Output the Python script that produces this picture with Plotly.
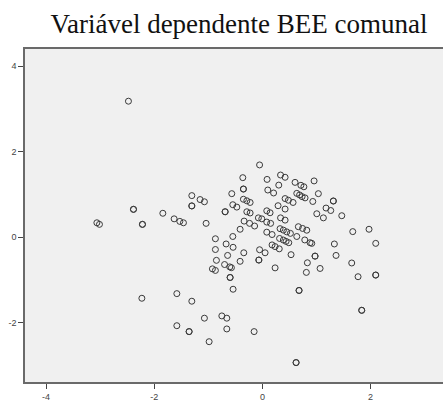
import plotly.graph_objects as go

title_text = "Variável dependente BEE comunal"

x_vals = [
    -2.477, -2.384, -2.384, -2.218, -2.218, -3.061, -3.013, -1.841, -1.632, -1.527,
    -1.460, -1.305, -1.152, -1.072, -1.305, -1.305, -1.041, -0.869, -0.869, -0.850,
    -0.924, -0.869, -2.229, -1.582, -1.305, -1.072, -1.582, -1.355, -1.355, -0.985,
    -0.750, -0.658, -0.658, -0.153, 0.623, 0.623, -0.689, -0.689, -0.547, -0.473,
    -0.351, -0.288, -0.227, -0.288, -0.227, 0.081, 0.142, 0.290, 0.420, 0.420,
    0.481, 0.567, -0.338, -0.237, -0.144, -0.074, -0.011, 0.081, 0.152, 0.336,
    0.420, -0.412, -0.547, 0.081, 0.179, 0.327, 0.388, 0.451, 0.518, 0.665,
    0.743, 0.821, 0.636, 1.006, 1.128, 1.177, 1.264, 1.312, 1.312, 1.468,
    0.318, 0.388, 0.438, 0.488, 0.784, 0.882, 0.913, -0.671, -0.542, 0.179,
    0.235, 0.312, -0.052, 0.050, -0.344, -0.643, 0.530, 0.974, 0.974, -0.412,
    -0.065, -0.065, -0.699, -0.603, -0.573, 0.235, 0.832, 0.813, 1.067, -0.597,
    -0.597, -0.542, 0.678, 0.678, 1.331, 1.362, 1.652, 1.769, 2.096, 2.096,
    1.671, 1.972, 2.096, 1.837, 1.837, -0.052, -0.362, 0.087, 0.336, 0.420,
    0.604, 0.712, 0.767, 0.956, -0.351, -0.351, 0.100, 0.207, 0.303, -0.566,
    0.636, 0.688, 0.734, 0.789, 1.035, 0.932,
]

y_vals = [
    3.179, 0.649, 0.649, 0.298, 0.298, 0.335, 0.298, 0.557, 0.427, 0.367,
    0.335, 0.970, 0.878, 0.826, 0.729, 0.729, 0.321, -0.039, -0.291, -0.544,
    -0.743, -0.780, -1.431, -1.323, -1.500, -1.897, -2.073, -2.211, -2.211, -2.447,
    -1.844, -1.897, -2.149, -2.211, -2.936, -2.936, 0.592, 0.592, 0.757, 0.702,
    0.885, 0.849, 0.810, 0.592, 0.564, 0.615, 0.569, 0.734, 0.656, 0.901,
    0.862, 0.810, 0.374, 0.321, 0.259, 0.450, 0.427, 0.351, 0.321, 0.450,
    0.397, 0.183, 0.014, 0.115, 0.060, 0.197, 0.163, 0.122, 0.087, 0.243,
    0.202, 0.161, 0.014, 0.546, 0.450, 0.679, 0.622, 0.844, 0.844, 0.500,
    -0.032, -0.069, -0.101, -0.131, -0.067, -0.131, -0.147, -0.161, -0.239, -0.183,
    -0.222, -0.275, -0.296, -0.367, -0.367, -0.429, -0.411, -0.445, -0.445, -0.567,
    -0.537, -0.537, -0.642, -0.697, -0.716, -0.720, -0.601, -0.826, -0.734, -0.945,
    -0.945, -1.220, -1.248, -1.248, -0.161, -0.429, -0.606, -0.927, -0.888, -0.888,
    0.128, 0.183, -0.147, -1.713, -1.713, 1.688, 1.390, 1.349, 1.452, 1.399,
    1.280, 1.211, 1.177, 1.314, 1.124, 1.124, 1.101, 1.032, 1.216, 1.016,
    1.023, 0.986, 0.947, 0.917, 1.016, 0.833,
]

x_ticks = [-4, -2, 0, 2]
x_tick_labels = ["-4", "-2", "0", "2"]
y_ticks = [-2, 0, 2, 4]
y_tick_labels = ["-2", "0", "2", "4"]

fig = go.Figure()
fig.add_trace(go.Scatter(
    x=x_vals, y=y_vals, mode="markers",
    marker=dict(symbol="circle-open", size=6, color="#3a3a3a",
                line=dict(width=1, color="#3a3a3a")),
    hoverinfo="skip", showlegend=False,
))

axis_common = dict(
    showgrid=False, zeroline=False, showline=True, linecolor="#6a6a6a",
    linewidth=1.5, ticks="outside", ticklen=5, tickwidth=1, tickcolor="#444",
    tickfont=dict(family="Liberation Sans, Arial", size=9, color="#444"),
)

fig.update_layout(
    width=443, height=402,
    margin=dict(l=25, r=0, t=49, b=13),
    paper_bgcolor="white", plot_bgcolor="#f0f0f0",
    title=dict(text=title_text, x=239 / 443, xanchor="center", xref="container",
               y=1 - 24 / 402, yanchor="middle", yref="container",
               font=dict(family="Liberation Serif, Times New Roman", size=27, color="#111")),
    xaxis=dict(range=[-4.39, 3.34], tickvals=x_ticks, ticktext=x_tick_labels,
               mirror=True, ticklabelstandoff=0, **axis_common),
    yaxis=dict(range=[-3.39, 4.40], tickvals=y_ticks, ticktext=y_tick_labels,
               mirror=False, **axis_common),
)

fig.write_html(
    "out.html",
    config={"displayModeBar": False},
    post_script="document.body.style.margin='0';document.body.style.overflow='hidden';",
)
